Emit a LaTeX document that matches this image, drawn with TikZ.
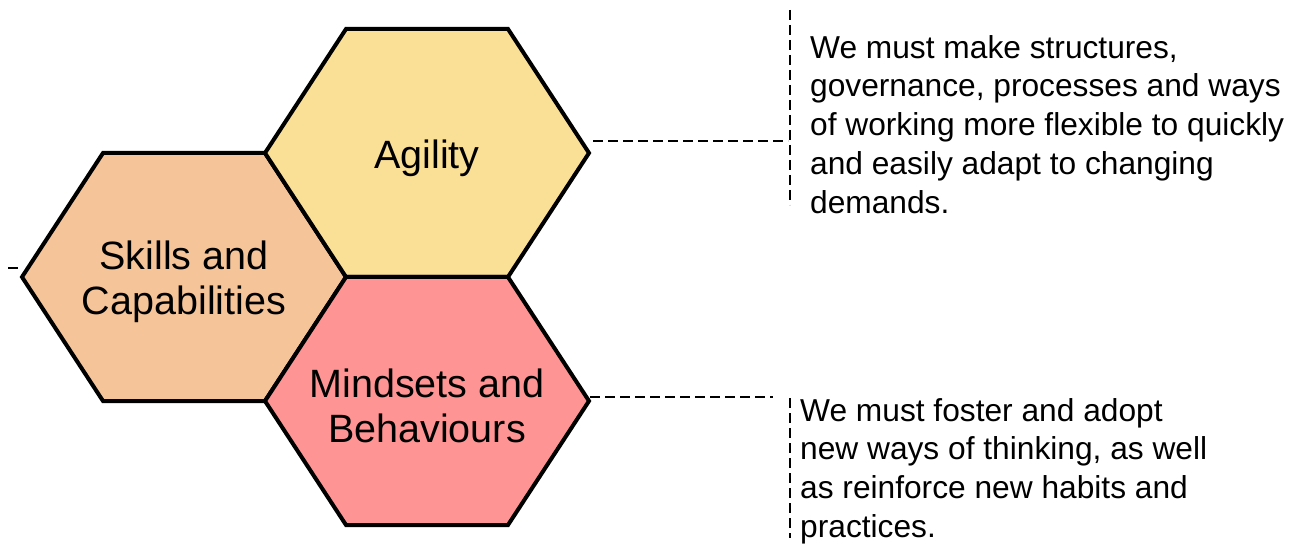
\documentclass[tikz,border=0pt]{standalone}
\usepackage{fontspec}
\setmainfont{Liberation Sans}
\definecolor{agilfill}{HTML}{FADF96}
\definecolor{skilfill}{HTML}{F5C499}
\definecolor{mindfill}{HTML}{FF9494}
\begin{document}
\begin{tikzpicture}[x=1pt,y=-1pt,
  hexline/.style={draw=black,line width=4pt,line join=miter},
  hexlabel/.style={align=center,yshift=-5pt,font=\fontsize{39.5}{45}\selectfont},
  callout/.style={line width=2.4pt,dash pattern=on 10pt off 5pt},
  note/.style={align=left,anchor=north west,inner sep=0pt,font=\fontsize{31.7}{38.8}\selectfont}]
\useasboundingbox (0,0) rectangle (1315,556);
\foreach \n/\cx/\cy/\c/\t in {skl/184/277/skilfill/{Skills and\\Capabilities},
    agi/427/153/agilfill/Agility, mnd/427/401/mindfill/{Mindsets and\\Behaviours}} {
  \draw[hexline,fill=\c] (\cx-162,\cy) -- ++(81,-124) -- ++(162,0) -- ++(81,124)
     -- ++(-81,124) -- ++(-162,0) -- cycle;
  \node[hexlabel] (\n) at (\cx,\cy) {\t};
}
% callouts
\coordinate (agiR) at (593,141);
\coordinate (agiC) at (788,141);
\coordinate (mndR) at (590,397);
\coordinate (mndC) at (773,397);
\draw[callout] (agiR) -- (agiC);
\draw[callout] (790,10) -- (790,205);
\draw[callout] (mndR) -- (mndC);
\draw[callout] (790,398) -- (790,538);
\draw[callout] (8,268) -- (18,268);
\node[note] (agitxt) at (810,35) {We must make structures,\\governance, processes and ways\\of working more flexible to quickly\\and easily adapt to changing\\demands.};
\node[note] (mndtxt) at (800,398) {We must foster and adopt\\new ways of thinking, as well\\as reinforce new habits and\\practices.};
\end{tikzpicture}
\end{document}
